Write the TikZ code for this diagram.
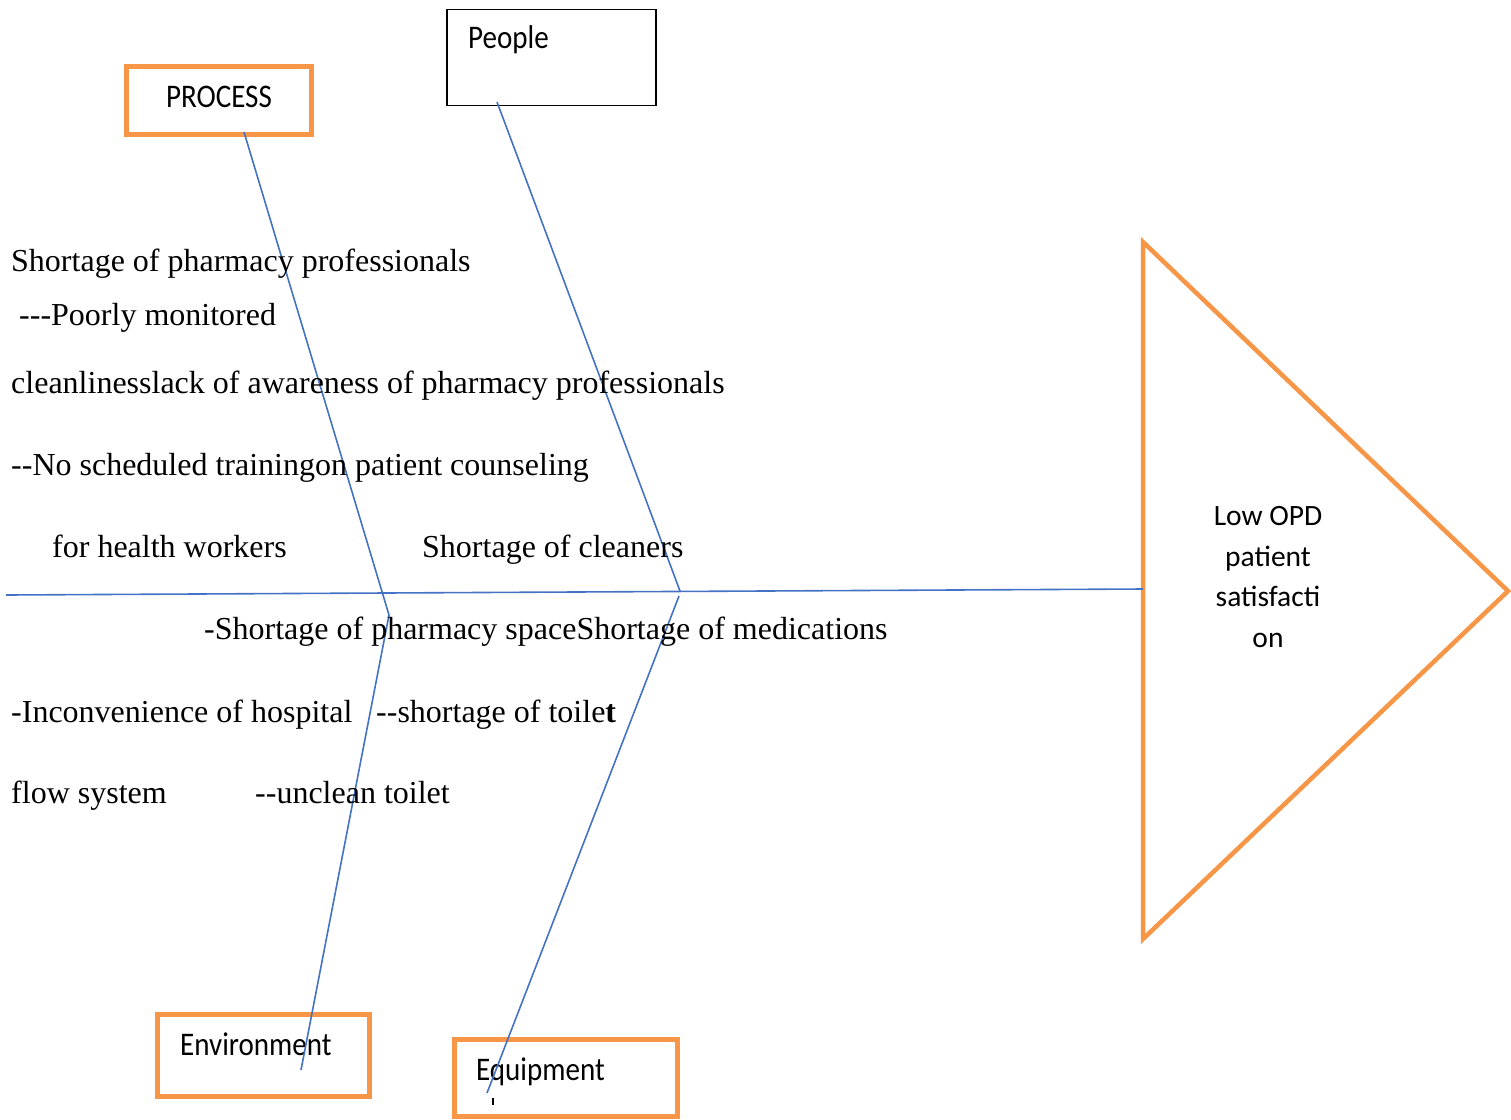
\documentclass[tikz,border=0pt]{standalone}
\usepackage{fontspec}
\usepackage{graphicx}
\newfontfamily\serif{Liberation Serif}
\newfontfamily\calib{Carlito}
\definecolor{orng}{HTML}{F79646}
\definecolor{blu}{HTML}{4472C4}
\newcommand\hy{-\kern0pt}
\newcommand\narrow[1]{\scalebox{0.88}[1]{#1}}
\tikzset{
  ser/.style={font=\serif\fontsize{32}{38}\selectfont, anchor=base west, inner sep=0pt},
  lbl/.style={font=\calib\fontsize{33}{38}\selectfont, inner sep=0pt},
  glbl/.style={font=\calib\fontsize{29.5}{35}\selectfont, inner sep=0pt, anchor=base},
  obox/.style={draw=orng, line width=5pt, anchor=north west, inner sep=0pt, outer sep=0pt},
  kbox/.style={draw=black, line width=1.5pt, anchor=north west, inner sep=0pt, outer sep=0pt},
  bone/.style={draw=blu, line width=1.6pt},
}
\begin{document}
\begin{tikzpicture}[x=1pt,y=-1pt]
\useasboundingbox (0,0) rectangle (1511,1119);
% category boxes
\node[obox, minimum width=185pt, minimum height=68pt] (process) at (126.5,66.5) {};
\node[lbl, anchor=base] (processtxt) at (219,107) {\narrow{PROCESS}};
\node[kbox, minimum width=209pt, minimum height=96pt] (people) at (447,9.5) {};
\node[lbl, anchor=base west] (peopletxt) at (468,48) {\narrow{People}};
\node[obox, minimum width=212pt, minimum height=82pt] (env) at (157.5,1014.5) {};
\node[lbl, anchor=base west] (envtxt) at (180,1055) {\narrow{Environment}};
\node[obox, minimum width=223pt, minimum height=77pt] (equip) at (454.5,1039.5) {};
\node[lbl, anchor=base west] (equiptxt) at (476,1080) {\narrow{Equipment}};
% head triangle
\coordinate (t1) at (1143,242);
\coordinate (t2) at (1508,591);
\coordinate (t3) at (1143,939);
\draw[orng, line width=4.5pt, line join=miter] (t1) -- (t2) -- (t3) -- cycle;
\node[glbl] (g1) at (1268,525) {Low OPD};
\node[glbl] (g2) at (1268,566) {patient};
\node[glbl] (g3) at (1268,606) {satisfacti};
\node[glbl] (g4) at (1268,647) {on};
% spine
\coordinate (tail) at (6,595);
\coordinate (head) at (1143,589);
\draw[bone] (tail) -- (head);
% bones
\coordinate (pA) at (244,132);
\coordinate (kL) at (389,615);
\coordinate (eA) at (301,1070);
\coordinate (qA) at (497,102);
\coordinate (kR) at (680,591);
\coordinate (kR2) at (679,596);
\coordinate (uA) at (487,1093);
\draw[bone] (pA) -- (kL) -- (eA);
\draw[bone] (qA) -- (kR);
\draw[bone] (kR2) -- (uA);
% stray mark
\coordinate (m1) at (493,1098);
\coordinate (m2) at (493,1105);
\draw[line width=2pt] (m1) -- (m2);
% cause texts
\node[ser] (c1) at (11,271) {Shortage of pharmacy professionals};
\node[ser] (c2) at (19,325) {\hy\hy-Poorly monitored};
\node[ser] (c3) at (11,393) {cleanlinesslack of awareness of pharmacy professionals};
\node[ser] (c4) at (11,475) {\hy-No scheduled trainingon patient counseling};
\node[ser] (c5) at (52,557) {for health workers};
\node[ser] (c6) at (422,557) {Shortage of cleaners};
\node[ser] (c7) at (204,639) {-Shortage of pharmacy spaceShortage of medications};
\node[ser] (c8) at (11,722) {-Inconvenience of hospital};
\node[ser] (c9) at (376,722) {\hy-shortage of toile{\bfseries t}};
\node[ser] (c10) at (11,803) {flow system};
\node[ser] (c11) at (255,803) {\hy-unclean toilet};
\end{tikzpicture}
\end{document}
